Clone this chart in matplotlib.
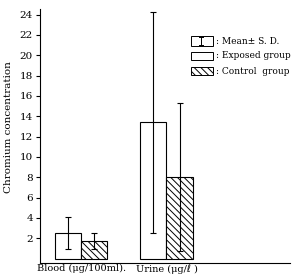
import matplotlib
matplotlib.use("Agg")
import matplotlib.pyplot as plt
from matplotlib.patches import Rectangle

plt.rcParams['font.family'] = ['DejaVu Serif', 'DejaVu Sans', 'Noto Sans CJK JP']
plt.rcParams['hatch.linewidth'] = 0.7

# data
categories = ["Blood (\u03bcg/100ml).", "Urine (\u03bcg/\u2113 )"]
exposed_mean = [2.5, 13.4]
exposed_sd = [1.6, 10.9]
control_mean = [1.7, 8.0]
control_sd = [0.8, 7.3]
y_ticks = [2, 4, 6, 8, 10, 12, 14, 16, 18, 20, 22, 24]

fig = plt.figure(figsize=(2.94, 2.75), dpi=100)
ax = fig.add_axes([0.136, 0.044, 0.850, 0.925])

centers = [1.58, 4.86]
w = 1.0
ax.bar([c - w / 2 for c in centers], exposed_mean, width=w, color="white",
       edgecolor="black", linewidth=0.8, zorder=2)
ax.bar([c + w / 2 for c in centers], control_mean, width=w, color="white",
       edgecolor="black", linewidth=0.8, hatch="\\\\\\\\\\", zorder=2)
ax.errorbar([c - w / 2 for c in centers], exposed_mean, yerr=exposed_sd, fmt="none",
            ecolor="black", elinewidth=0.8, capsize=2, capthick=0.8, zorder=3)
ax.errorbar([c + w / 2 for c in centers], control_mean, yerr=control_sd, fmt="none",
            ecolor="black", elinewidth=0.8, capsize=2, capthick=0.8, zorder=3)

ax.set_xlim(0, 9.6)
ax.set_ylim(-0.43, 24.6)
ax.set_yticks(y_ticks)
ax.set_yticklabels([str(t) for t in y_ticks], fontsize=7.5)
ax.set_xticks(centers)
ax.set_xticklabels(categories, fontsize=7)
ax.tick_params(axis="x", length=0, pad=1)
ax.tick_params(axis="y", length=3, width=0.8, pad=2, direction="out")
for s in ["top", "right"]:
    ax.spines[s].set_visible(False)
for s in ["left", "bottom"]:
    ax.spines[s].set_linewidth(0.8)

fig.text(0.028, 0.538, "Chromium concentration", rotation=90, fontsize=7.5,
         ha="center", va="center")

# legend drawn by hand
def fx(px):
    return px / 294

def fy(py):
    return 1 - py / 275

boxes = [(36, 46), (52, 60), (67, 75)]
for i, (y0, y1) in enumerate(boxes):
    r = Rectangle((fx(191), fy(y1)), fx(213) - fx(191), fy(y0) - fy(y1),
                  transform=fig.transFigure, facecolor="white", edgecolor="black",
                  linewidth=0.7, hatch="\\\\\\\\\\" if i == 2 else None)
    fig.add_artist(r)
# mini error bar symbol in first box
fig.add_artist(plt.Line2D([fx(201), fx(201)], [fy(37), fy(45)],
                          transform=fig.transFigure, color="black", linewidth=0.7))
for yy in (37, 45):
    fig.add_artist(plt.Line2D([fx(199), fx(203)], [fy(yy), fy(yy)],
                              transform=fig.transFigure, color="black", linewidth=0.7))
labels = [": Mean\u00b1 S. D.", ": Exposed group", ": Control  group"]
for (y0, y1), lab in zip(boxes, labels):
    fig.text(fx(216), fy((y0 + y1) / 2), lab, fontsize=6.5, va="center", ha="left")

fig.savefig("out.png", dpi=100)
